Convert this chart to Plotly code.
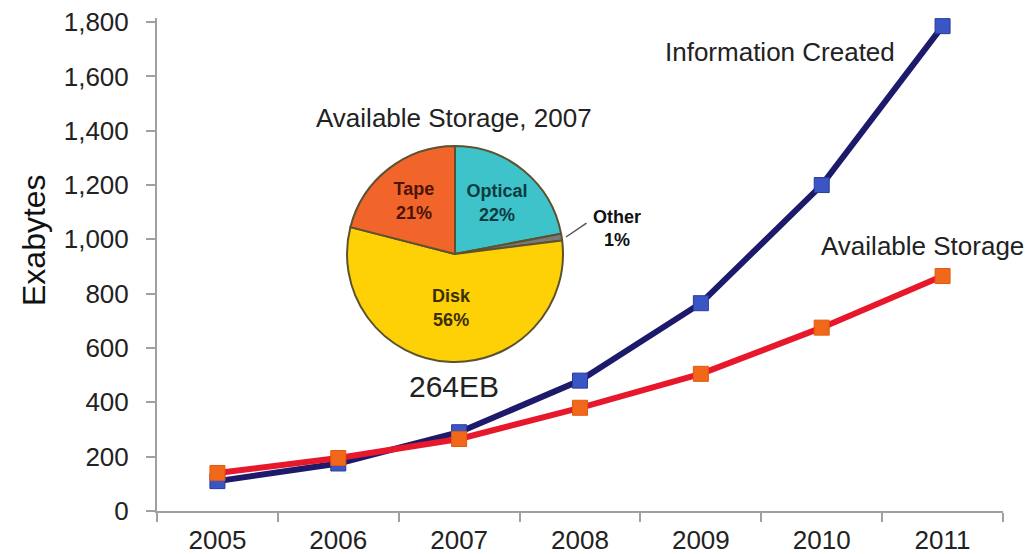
import plotly.graph_objects as go

years = ["2005", "2006", "2007", "2008", "2009", "2010", "2011"]
info_created = [110, 175, 290, 480, 765, 1200, 1785]
available_storage = [140, 195, 265, 380, 505, 675, 865]

pie_labels = ["Optical", "Other", "Disk", "Tape"]
pie_values = [22, 1, 56, 21]
pie_colors = ["#3fc3cb", "#7a7a7a", "#fdd106", "#f2652a"]
pie_text_colors = ["#0b3a3f", "#000000", "#3a2e00", "#4a1408"]

y_ticks = [0, 200, 400, 600, 800, 1000, 1200, 1400, 1600, 1800]
y_tick_text = ["0", "200", "400", "600", "800", "1,000", "1,200", "1,400", "1,600", "1,800"]

FONT = "Liberation Sans, Arial, sans-serif"

fig = go.Figure()

fig.add_trace(go.Scatter(
    x=years, y=info_created, mode="lines+markers", name="Information Created",
    line=dict(color="#1d1a6b", width=6),
    marker=dict(symbol="square", size=15, color="#3a55c4", line=dict(color="#2a3a9a", width=1)),
    showlegend=False,
))
fig.add_trace(go.Scatter(
    x=years, y=available_storage, mode="lines+markers", name="Available Storage",
    line=dict(color="#e8182c", width=6),
    marker=dict(symbol="square", size=15, color="#f2681a", line=dict(color="#e05a10", width=1)),
    showlegend=False,
))

# plot area in pixels: x 157..1003, y 18..511
L, R, T, B = 157, 1003, 18, 511
def px(xp):
    return (xp - L) / (R - L)
def py(yp):
    return (B - yp) / (B - T)

cx, cy, rad = 455, 254, 108
fig.add_trace(go.Pie(
    labels=pie_labels, values=pie_values, sort=False, direction="clockwise", rotation=0,
    marker=dict(colors=pie_colors, line=dict(color="#5c5230", width=2)),
    texttemplate=["<b>%{label}<br>%{value}%</b>", "", "<b>%{label}<br>%{value}%</b>", "<b>%{label}<br>%{value}%</b>"],
    textposition="inside", insidetextorientation="horizontal",
    textfont=dict(family=FONT, size=18, color=pie_text_colors),
    domain=dict(x=[px(cx - rad), px(cx + rad)], y=[py(cy + rad), py(cy - rad)]),
    showlegend=False, hoverinfo="label+percent",
))

annotations = [
    dict(x=px(780), y=py(52), text="Information Created", showarrow=False,
         font=dict(family=FONT, size=26, color="#222222")),
    dict(x=px(922), y=py(246), text="Available Storage", showarrow=False,
         font=dict(family=FONT, size=26, color="#222222")),
    dict(x=px(454), y=py(118), text="Available Storage, 2007", showarrow=False,
         font=dict(family=FONT, size=26, color="#222222")),
    dict(x=px(454), y=py(386), text="264EB", showarrow=False,
         font=dict(family=FONT, size=30, color="#222222")),
    dict(x=px(617), y=py(228), text="<b>Other<br>1%</b>", showarrow=False,
         font=dict(family=FONT, size=18, color="#111111")),
    dict(x=px(34), y=py(240), text="Exabytes", showarrow=False, textangle=-90,
         font=dict(family=FONT, size=32, color="#111111")),
    dict(x=px(566), y=py(237), ax=22, ay=-15, axref="pixel", ayref="pixel",
         text="", showarrow=True, arrowhead=0,
         arrowwidth=1.5, arrowcolor="#555555"),
]
for a in annotations:
    a.setdefault("xref", "paper")
    a.setdefault("yref", "paper")
    a.setdefault("xanchor", "center")
    a.setdefault("yanchor", "middle")

fig.update_layout(
    width=1036, height=554,
    margin=dict(l=L, r=1036 - R, t=T, b=554 - B),
    paper_bgcolor="white", plot_bgcolor="white",
    font=dict(family=FONT, color="#222222"),
    annotations=annotations,
    xaxis=dict(
        type="category", range=[-0.5, 6.5], showgrid=False, zeroline=False,
        showline=True, linecolor="#a0a0a0", linewidth=2,
        ticks="outside", ticklen=9, tickwidth=2, tickcolor="#a0a0a0",
        tickson="boundaries", automargin=False, ticklabelstandoff=5,
        tickfont=dict(family=FONT, size=26, color="#222222"),
    ),
    yaxis=dict(
        range=[0, 1815], showgrid=False, zeroline=False,
        showline=True, linecolor="#a0a0a0", linewidth=2,
        ticks="outside", ticklen=9, tickwidth=2, tickcolor="#a0a0a0",
        tickvals=y_ticks, ticktext=y_tick_text, automargin=False, ticklabelstandoff=12,
        tickfont=dict(family=FONT, size=26, color="#222222"),
    ),
)

fig.write_html("out.html", config={"displayModeBar": False},
               post_script="document.body.style.margin='0';document.body.style.overflow='hidden';")
